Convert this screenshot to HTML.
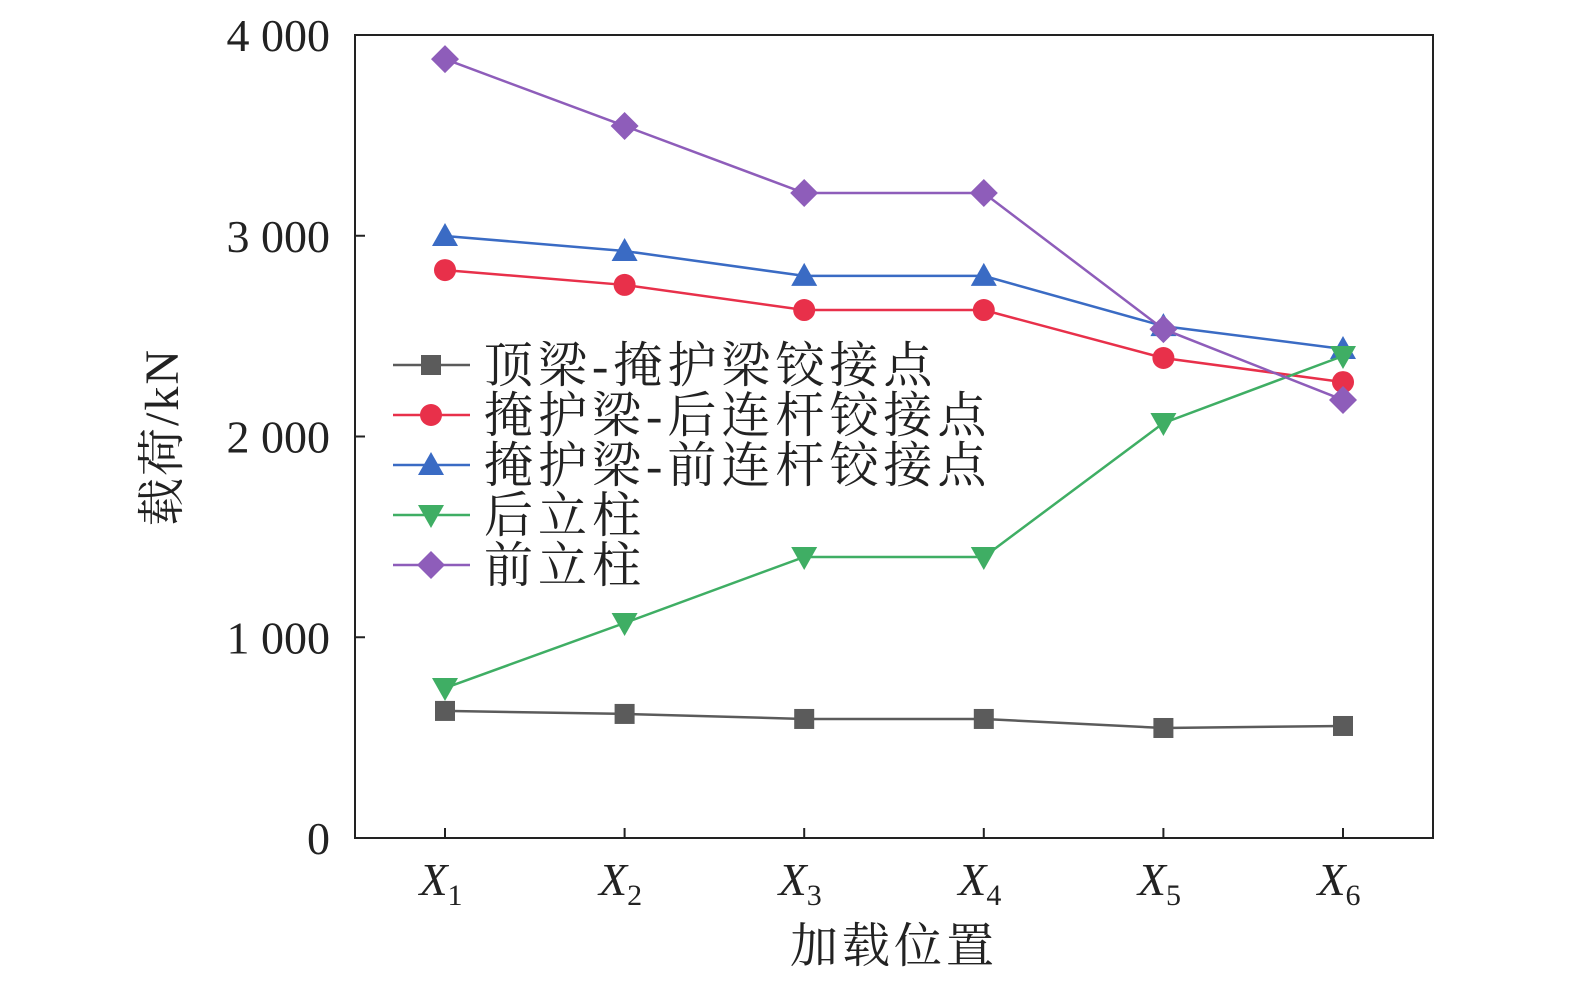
<!DOCTYPE html>
<html><head><meta charset="utf-8"><style>
html,body{margin:0;padding:0;background:#fff;overflow:hidden;width:1575px;height:982px}
svg{display:block}
text{font-family:"Liberation Serif","Noto Serif CJK SC",serif;fill:#222}
</style></head><body>
<svg id="chart" width="1575" height="982" viewBox="0 0 1575 982" xmlns="http://www.w3.org/2000/svg"></svg>
<script>
const categories=["1","2","3","4","5","6"];
const yTicks=[0,1000,2000,3000,4000];
const yTickLabels=["0","1 000","2 000","3 000","4 000"];
const seriesNames=["顶梁-掩护梁铰接点","掩护梁-后连杆铰接点","掩护梁-前连杆铰接点","后立柱","前立柱"];
const sTop=[633,618,593,593,548,558];
const sRearLink=[2829,2755,2630,2630,2391,2271];
const sFrontLink=[2999,2924,2800,2800,2550,2436];
const sRearCol=[747,1071,1400,1400,2067,2401];
const sFrontCol=[3880,3547,3213,3213,2535,2182];

const NS="http://www.w3.org/2000/svg";
const svg=document.getElementById('chart');
const L=355,R=1433,T=35,B=838;
const xPos=i=>445+i*(1343-445)/(categories.length-1);
const yPos=v=>B-(v/4000)*(B-T);
function mk(tag,attrs,parent){const e=document.createElementNS(NS,tag);for(const k in attrs)e.setAttribute(k,attrs[k]);(parent||svg).appendChild(e);return e;}

const frame=mk('rect',{x:L,y:T,width:R-L,height:B-T,fill:'none',stroke:'#222','stroke-width':2});



yTicks.forEach((v,i)=>{
  const y=yPos(v);
  const t=mk('line',{x1:L,x2:L+10,y1:y,y2:y,stroke:'#222','stroke-width':2});
  
  
  const lb=mk('text',{x:330,y:y+16,'text-anchor':'end','font-size':46});
  lb.textContent=yTickLabels[i];
  
  
});
categories.forEach((c,i)=>{
  const x=xPos(i);
  const t=mk('line',{x1:x,x2:x,y1:B,y2:B-10,stroke:'#222','stroke-width':2});
  
  
  const lb=mk('text',{x:x-4,y:895,'text-anchor':'middle','font-size':46});
  
  
  const a=mk('tspan',{'font-style':'italic'},lb);a.textContent='X';
  const b=mk('tspan',{'font-size':30,dy:10},lb);b.textContent=c;
});
const xt=mk('text',{x:894,y:962,'text-anchor':'middle','font-size':48,'letter-spacing':4});
xt.textContent='加载位置';


const yt=mk('text',{x:0,y:0,'text-anchor':'middle','font-size':48,'letter-spacing':2,transform:'translate(178,437) rotate(-90)'});
yt.textContent='载荷/kN';



const colors=['#5b5b5b','#e8304a','#3a6bc4','#3fae64','#8e5dba'];
const shapes=['square','circle','up','down','diamond'];
function marker(g,shape,x,y,c){
  if(shape==='square')return mk('rect',{x:x-10,y:y-10,width:20,height:20,fill:c},g);
  if(shape==='circle')return mk('circle',{cx:x,cy:y,r:11,fill:c},g);
  if(shape==='up')return mk('polygon',{points:`${x},${y-13} ${x+13},${y+10} ${x-13},${y+10}`,fill:c},g);
  if(shape==='down')return mk('polygon',{points:`${x},${y+13} ${x+13},${y-10} ${x-13},${y-10}`,fill:c},g);
  return mk('polygon',{points:`${x},${y-14} ${x+14},${y} ${x},${y+14} ${x-14},${y}`,fill:c},g);
}
[sTop,sRearLink,sFrontLink,sRearCol,sFrontCol].forEach((s,k)=>{
  const g=mk('g',{});
  
  
  const pl=mk('polyline',{points:s.map((v,i)=>xPos(i)+','+yPos(v)).join(' '),fill:'none',stroke:colors[k],'stroke-width':2.5},g);
  
  
  s.forEach((v,i)=>{const m=marker(g,shapes[k],xPos(i),yPos(v),colors[k]);
    
    });
  const ly=365+k*50;
  const lg=mk('g',{});
  
  
  mk('line',{x1:393,x2:470,y1:ly,y2:ly,stroke:colors[k],'stroke-width':2.5},lg);
  marker(lg,shapes[k],431,ly,colors[k]);
  const tx=mk('text',{x:484,y:ly+17,'font-size':49,'letter-spacing':5},lg);
  tx.textContent=seriesNames[k];
});
</script>
</body></html>
